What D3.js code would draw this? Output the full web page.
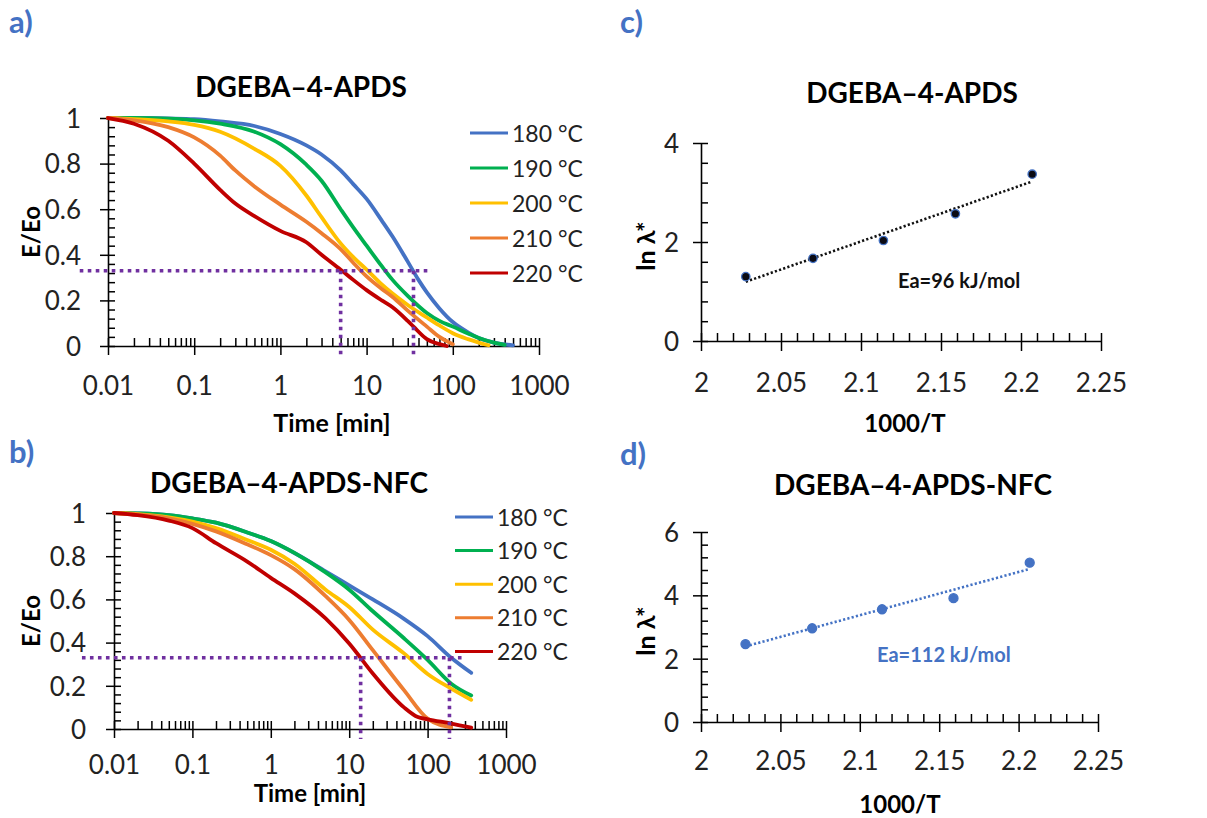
<!DOCTYPE html>
<html>
<head>
<meta charset="utf-8">
<script src="https://cdn.jsdelivr.net/npm/d3@7"></script>
<style>
  html, body { margin: 0; padding: 0; background: #fff; }
  svg { display: block; font-family: Lato, "Open Sans", sans-serif; }
</style>
</head>
<body>
<svg id="chart" width="1207" height="818"></svg>
<script>
// ---------------- DATA ----------------
const seriesNames = ["180 °C", "190 °C", "200 °C", "210 °C", "220 °C"];

// Panel a) DGEBA–4-APDS : E/Eo vs time [min]
const tA180 = [0.01, 0.02, 0.05, 0.1, 0.2, 0.5, 1, 2, 3, 5, 7, 10, 15, 20, 30, 40, 50, 70, 100, 150, 200, 300, 500];
const vA180 = [1, 1, 0.998, 0.995, 0.985, 0.965, 0.93, 0.88, 0.84, 0.77, 0.71, 0.645, 0.55, 0.48, 0.37, 0.29, 0.235, 0.165, 0.105, 0.06, 0.035, 0.015, 0.003];
const tA190 = [0.01, 0.02, 0.05, 0.1, 0.2, 0.5, 1, 2, 3, 5, 7, 10, 15, 20, 30, 50, 70, 100, 150, 200, 300, 400];
const vA190 = [1, 1, 0.997, 0.99, 0.975, 0.94, 0.885, 0.795, 0.725, 0.6, 0.52, 0.44, 0.35, 0.29, 0.22, 0.145, 0.11, 0.085, 0.055, 0.035, 0.015, 0.005];
const tA200 = [0.01, 0.02, 0.05, 0.1, 0.2, 0.5, 1, 2, 3, 5, 7, 10, 15, 20, 30, 50, 70, 100, 150, 200, 260];
const vA200 = [1, 0.995, 0.985, 0.97, 0.94, 0.865, 0.79, 0.66, 0.565, 0.45, 0.39, 0.335, 0.27, 0.23, 0.18, 0.125, 0.09, 0.056, 0.03, 0.015, 0.003];
const tA210 = [0.01, 0.02, 0.05, 0.1, 0.2, 0.3, 0.5, 1, 2, 3, 5, 7, 10, 15, 20, 30, 50, 70, 100];
const vA210 = [1, 0.99, 0.96, 0.915, 0.835, 0.77, 0.7, 0.62, 0.545, 0.495, 0.425, 0.365, 0.305, 0.25, 0.215, 0.155, 0.085, 0.04, 0.008];
const tA220 = [0.01, 0.02, 0.05, 0.1, 0.2, 0.3, 0.5, 1, 2, 3, 5, 7, 10, 15, 20, 30, 35, 50, 70, 85];
const vA220 = [1, 0.975, 0.9, 0.8, 0.685, 0.625, 0.57, 0.505, 0.455, 0.4, 0.335, 0.29, 0.245, 0.2, 0.17, 0.11, 0.085, 0.03, 0.008, 0];

// Panel b) DGEBA–4-APDS-NFC
const tB180 = [0.01, 0.02, 0.05, 0.1, 0.2, 0.5, 1, 2, 5, 10, 20, 50, 100, 200, 360];
const vB180 = [1, 0.998, 0.99, 0.975, 0.955, 0.91, 0.87, 0.815, 0.73, 0.665, 0.6, 0.51, 0.43, 0.33, 0.26];
const tB190 = [0.01, 0.02, 0.05, 0.1, 0.2, 0.5, 1, 2, 5, 10, 20, 50, 100, 200, 360];
const vB190 = [1, 0.998, 0.99, 0.975, 0.955, 0.91, 0.87, 0.815, 0.725, 0.645, 0.545, 0.42, 0.32, 0.21, 0.155];
const tB200 = [0.01, 0.02, 0.05, 0.1, 0.2, 0.5, 1, 2, 5, 10, 20, 50, 100, 200, 360];
const vB200 = [1, 0.995, 0.98, 0.96, 0.93, 0.875, 0.83, 0.765, 0.645, 0.565, 0.46, 0.35, 0.255, 0.187, 0.135];
const tB210 = [0.01, 0.02, 0.05, 0.1, 0.2, 0.5, 1, 2, 5, 10, 20, 50, 100, 200];
const vB210 = [1, 0.993, 0.975, 0.95, 0.915, 0.855, 0.805, 0.74, 0.615, 0.505, 0.365, 0.18, 0.048, 0.008];
const tB220 = [0.01, 0.02, 0.05, 0.1, 0.2, 0.5, 1, 2, 5, 10, 20, 50, 75, 100, 200, 360];
const vB220 = [1, 0.99, 0.965, 0.93, 0.86, 0.775, 0.7, 0.628, 0.512, 0.396, 0.257, 0.1, 0.055, 0.045, 0.025, 0.006];

// Reference (dotted) lines: E/Eo level and the times where it is reached
const refLevel = 0.33;
const refSpanA = [0.0047, 57];     // horizontal extent in minutes
const refDropsA = [5, 35];
const refSpanB = [0.0039, 280];
const refDropsB = [14, 190];

// Panels c) and d): Arrhenius plots
const invT = [2.028, 2.070, 2.114, 2.159, 2.207];   // 1000/T
const lnLamC = [1.30, 1.67, 2.03, 2.57, 3.37];
const lnLamD = [2.46, 2.96, 3.56, 3.91, 5.03];
const eaTextC = "Ea=96 kJ/mol";
const eaTextD = "Ea=112 kJ/mol";

// Tick labels
const logTicks = [0.01, 0.1, 1, 10, 100, 1000];
const logTickLabels = ["0.01", "0.1", "1", "10", "100", "1000"];
const eTicks = [0, 0.2, 0.4, 0.6, 0.8, 1];
const eTickLabels = ["0", "0.2", "0.4", "0.6", "0.8", "1"];
const invTTicks = [2, 2.05, 2.1, 2.15, 2.2, 2.25];
const invTTickLabels = ["2", "2.05", "2.1", "2.15", "2.2", "2.25"];
const lnTicksC = [0, 2, 4];
const lnTickLabelsC = ["0", "2", "4"];
const lnTicksD = [0, 2, 4, 6];
const lnTickLabelsD = ["0", "2", "4", "6"];

// ---------------- STYLE ----------------
const colors = ["#4472C4", "#00B050", "#FFC000", "#ED7D31", "#C00000"];
const purple = "#7030A0";
const blue = "#4472C4";
const FONT_TICK = 26;

const svg = d3.select("#chart");

function styleAxis(g) {
  g.selectAll("path.domain").attr("stroke", "#000").attr("stroke-width", 1.6);
  g.selectAll(".tick line").attr("stroke", "#000").attr("stroke-width", 1.5);
  g.selectAll("text").attr("font-size", FONT_TICK).attr("fill", "#222")
    .attr("font-family", "Lato, 'Open Sans', sans-serif");
}

function logMinors() {
  const out = [];
  [0.01, 0.1, 1, 10, 100].forEach(d => { for (let k = 2; k <= 9; k++) out.push(d * k); });
  return out;
}

// -------- log time panels (a, b) --------
function timePanel(cfg) {
  const x = d3.scaleLog().domain([0.01, 1000]).range([cfg.x0, cfg.x1]);
  const y = d3.scaleLinear().domain([0, 1]).range([cfg.yBot, cfg.yTop]);
  const g = svg.append("g");

  // y axis
  const ya = g.append("g").attr("transform", `translate(${cfg.x0},0)`)
    .call(d3.axisLeft(y).tickValues(eTicks).tickSize(8).tickSizeOuter(0)
      .tickFormat((d, i) => eTickLabels[i]));
  styleAxis(ya);
  ya.selectAll("text").attr("x", cfg.yLabelRight - cfg.x0).attr("dy", "0.36em");
  const yminor = g.append("g").attr("transform", `translate(${cfg.x0},0)`)
    .call(d3.axisRight(y).tickValues(d3.range(0, 1.0001, 0.04)).tickSize(7).tickFormat(""));
  yminor.select(".domain").remove();
  styleAxis(yminor);

  // x axis
  const xa = g.append("g").attr("transform", `translate(0,${cfg.yBot})`)
    .call(d3.axisBottom(x).tickValues(logTicks).tickSize(9).tickSizeOuter(0)
      .tickFormat((d, i) => logTickLabels[i]));
  styleAxis(xa);
  xa.selectAll("text").attr("y", cfg.xLabelOffset).attr("dy", 0);
  const xminor = g.append("g").attr("transform", `translate(0,${cfg.yBot})`)
    .call(d3.axisTop(x).tickValues(logTicks.concat(logMinors())).tickSize(8).tickFormat(""));
  xminor.select(".domain").remove();
  styleAxis(xminor);

  // curves
  const line = d3.line().x(d => x(d[0])).y(d => y(d[1])).curve(d3.curveMonotoneX);
  cfg.series.forEach((s, i) => {
    g.append("path").datum(d3.zip(s[0], s[1]))
      .attr("d", line).attr("fill", "none").attr("stroke", colors[i])
      .attr("stroke-width", 3.8).attr("stroke-linejoin", "round").attr("stroke-linecap", "round");
  });

  // dotted reference lines
  const dot = { stroke: purple, "stroke-width": 3.6, "stroke-dasharray": "3.6,4.4" };
  const h = g.append("line")
    .attr("x1", x(cfg.refSpan[0])).attr("x2", x(cfg.refSpan[1]))
    .attr("y1", y(refLevel)).attr("y2", y(refLevel));
  Object.entries(dot).forEach(([k, v]) => h.attr(k, v));
  cfg.refDrops.forEach(t => {
    const v = g.append("line")
      .attr("x1", x(t)).attr("x2", x(t))
      .attr("y1", y(refLevel)).attr("y2", cfg.yBot + cfg.dropBelow);
    Object.entries(dot).forEach(([k, val]) => v.attr(k, val));
  });

  // legend
  seriesNames.forEach((name, i) => {
    const yy = cfg.legY0 + i * cfg.legDy;
    g.append("line").attr("x1", cfg.legX).attr("x2", cfg.legX + 38)
      .attr("y1", yy).attr("y2", yy).attr("stroke", colors[i]).attr("stroke-width", 3);
    g.append("text").attr("x", cfg.legX + 42).attr("y", yy + 8.5)
      .attr("font-size", 23).attr("fill", "#222").text(name);
  });

  // labels
  g.append("text").attr("x", cfg.titleX).attr("y", cfg.titleY).attr("text-anchor", "middle")
    .attr("font-size", 28).attr("font-weight", 700).attr("fill", "#000").text(cfg.title);
  g.append("text").attr("x", cfg.xTitleX).attr("y", cfg.xTitleY).attr("text-anchor", "middle")
    .attr("font-size", cfg.xTitleSize).attr("font-weight", 700).attr("fill", "#000").text("Time [min]");
  g.append("text").attr("transform", `translate(${cfg.yTitleX},${(cfg.yTop + cfg.yBot) / 2}) rotate(-90)`)
    .attr("text-anchor", "middle").attr("font-size", 24).attr("font-weight", 700)
    .attr("fill", "#000").text("E/Eo");
  g.append("text").attr("x", 9).attr("y", cfg.letterY).attr("font-size", 31)
    .attr("font-weight", 700).attr("fill", blue).text(cfg.letter);
}

timePanel({
  x0: 108, x1: 539, yTop: 118, yBot: 346, yLabelRight: 81, xLabelOffset: 49,
  series: [[tA180, vA180], [tA190, vA190], [tA200, vA200], [tA210, vA210], [tA220, vA220]],
  refSpan: refSpanA, refDrops: refDropsA, dropBelow: 12,
  legX: 470, legY0: 133, legDy: 35,
  title: "DGEBA\u20134-APDS", titleX: 301, titleY: 97,
  xTitleX: 332, xTitleY: 432, xTitleSize: 25, yTitleX: 40, letter: "a)", letterY: 33
});

timePanel({
  x0: 114, x1: 506, yTop: 513, yBot: 729, yLabelRight: 86, xLabelOffset: 45,
  series: [[tB180, vB180], [tB190, vB190], [tB200, vB200], [tB210, vB210], [tB220, vB220]],
  refSpan: refSpanB, refDrops: refDropsB, dropBelow: 10,
  legX: 455, legY0: 517, legDy: 33.6,
  title: "DGEBA\u20134-APDS-NFC", titleX: 289, titleY: 493,
  xTitleX: 310, xTitleY: 802, xTitleSize: 24, yTitleX: 40, letter: "b)", letterY: 463
});

// -------- Arrhenius panels (c, d) --------
function arrPanel(cfg) {
  const x = d3.scaleLinear().domain([2, 2.25]).range([cfg.x0, cfg.x1]);
  const y = d3.scaleLinear().domain([0, cfg.yMax]).range([cfg.yBot, cfg.yTop]);
  const g = svg.append("g");

  const ya = g.append("g").attr("transform", `translate(${cfg.x0},0)`)
    .call(d3.axisLeft(y).tickValues(cfg.yTicks).tickSize(8).tickSizeOuter(0)
      .tickFormat((d, i) => cfg.yTickLabels[i]));
  styleAxis(ya);
  ya.selectAll("text").attr("x", 679 - cfg.x0).attr("dy", "0.36em");
  const yminor = g.append("g").attr("transform", `translate(${cfg.x0},0)`)
    .call(d3.axisRight(y).tickValues(d3.range(0, cfg.yMax + 0.001, 0.4)).tickSize(7).tickFormat(""));
  yminor.select(".domain").remove();
  styleAxis(yminor);

  const xa = g.append("g").attr("transform", `translate(0,${cfg.yBot})`)
    .call(d3.axisBottom(x).tickValues(invTTicks).tickSize(10).tickSizeOuter(0)
      .tickFormat((d, i) => invTTickLabels[i]));
  styleAxis(xa);
  xa.selectAll("text").attr("y", cfg.xLabelOffset).attr("dy", 0);
  const xminor = g.append("g").attr("transform", `translate(0,${cfg.yBot})`)
    .call(d3.axisTop(x).tickValues(d3.range(2, 2.2501, 0.01)).tickSize(8).tickFormat(""));
  xminor.select(".domain").remove();
  styleAxis(xminor);

  // least-squares trend line
  const mx = d3.mean(invT), my = d3.mean(cfg.vals);
  const slope = d3.sum(invT, (d, i) => (d - mx) * (cfg.vals[i] - my)) / d3.sum(invT, d => (d - mx) * (d - mx));
  const xs = d3.extent(invT);
  g.append("line")
    .attr("x1", x(xs[0])).attr("y1", y(my + slope * (xs[0] - mx)))
    .attr("x2", x(xs[1])).attr("y2", y(my + slope * (xs[1] - mx)))
    .attr("stroke", cfg.lineColor).attr("stroke-width", 2.6).attr("stroke-dasharray", "2.2,2.2");

  g.selectAll("circle.pt").data(d3.zip(invT, cfg.vals)).join("circle")
    .attr("class", "pt").attr("cx", d => x(d[0])).attr("cy", d => y(d[1])).attr("r", cfg.r)
    .attr("fill", cfg.ptFill).attr("stroke", cfg.ptStroke).attr("stroke-width", 1.3);

  g.append("text").attr("x", cfg.eaX).attr("y", cfg.eaY).attr("font-size", 20)
    .attr("font-weight", 700).attr("fill", cfg.eaColor).text(cfg.eaText);

  g.append("text").attr("x", cfg.titleX).attr("y", cfg.titleY).attr("text-anchor", "middle")
    .attr("font-size", 28).attr("font-weight", 700).attr("fill", "#000").text(cfg.title);
  g.append("text").attr("x", cfg.xTitleX).attr("y", cfg.xTitleY).attr("text-anchor", "middle")
    .attr("font-size", 24).attr("font-weight", 700).attr("fill", "#000").text("1000/T");
  g.append("text").attr("transform", `translate(655,${(cfg.yTop + cfg.yBot) / 2 + 4}) rotate(-90)`)
    .attr("text-anchor", "middle").attr("font-size", 25).attr("font-weight", 700)
    .attr("fill", "#000").text("ln \u03bb*");
  g.append("text").attr("x", 620).attr("y", cfg.letterY).attr("font-size", 31)
    .attr("font-weight", 700).attr("fill", blue).text(cfg.letter);
}

arrPanel({
  x0: 701, x1: 1101, yTop: 143, yBot: 341, yMax: 4, yTicks: lnTicksC, yTickLabels: lnTickLabelsC,
  xLabelOffset: 51, vals: lnLamC, lineColor: "#111", ptFill: "#0b0b14", ptStroke: blue, r: 4.2,
  eaText: eaTextC, eaX: 898, eaY: 288, eaColor: "#111",
  title: "DGEBA\u20134-APDS", titleX: 912, titleY: 103, xTitleX: 905, xTitleY: 432,
  letter: "c)", letterY: 33
});

arrPanel({
  x0: 701, x1: 1098, yTop: 532, yBot: 722, yMax: 6, yTicks: lnTicksD, yTickLabels: lnTickLabelsD,
  xLabelOffset: 48, vals: lnLamD, lineColor: blue, ptFill: blue, ptStroke: blue, r: 4.5,
  eaText: eaTextD, eaX: 877, eaY: 662, eaColor: blue,
  title: "DGEBA\u20134-APDS-NFC", titleX: 913, titleY: 495, xTitleX: 900, xTitleY: 813,
  letter: "d)", letterY: 465
});
</script>
</body>
</html>
